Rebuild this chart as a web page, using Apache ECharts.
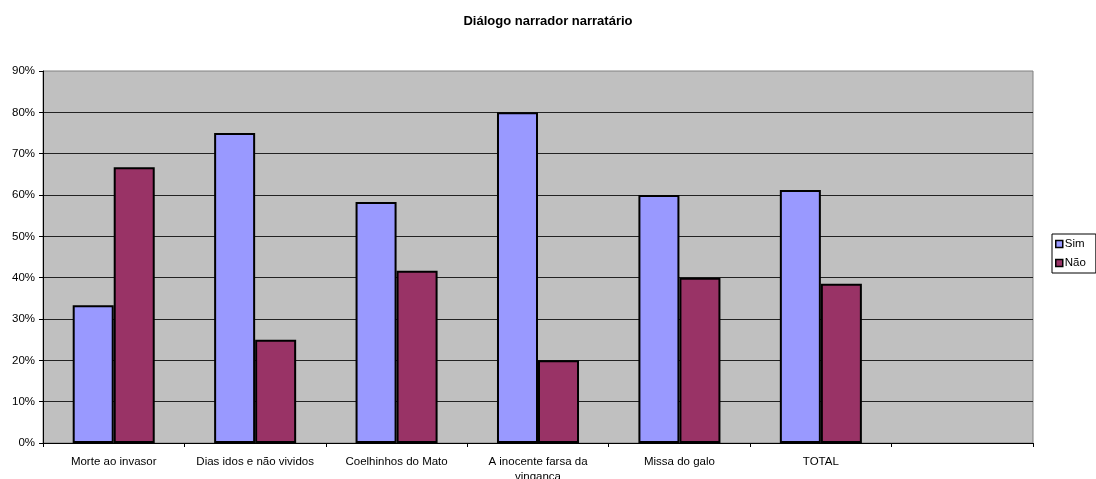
<!DOCTYPE html>
<html>
<head>
<meta charset="utf-8">
<script src="https://cdn.jsdelivr.net/npm/echarts@6/dist/echarts.min.js"></script>
<style>
  html, body { margin: 0; padding: 0; background: #ffffff; }
  #chart { width: 1096px; height: 479px; }
</style>
</head>
<body>
<div id="chart"></div>
<script>
// Stories (the last slot is left empty on the axis)
const categories = [
  'Morte ao invasor',
  'Dias idos e não vividos',
  'Coelhinhos do Mato',
  'A inocente farsa da\nvingança',
  'Missa do galo',
  'TOTAL',
  ''
];
// Share of dialogue between narrator and narratee, in percent
const simValues = [33.3, 75.0, 58.3, 80.0, 60.0, 61.2, null];
const naoValues = [66.7, 25.0, 41.7, 20.0, 40.0, 38.5, null];
const yTicks = { min: 0, max: 90, step: 10 };

const chart = echarts.init(document.getElementById('chart'), null, { renderer: 'canvas' });
const font = 'Arial, "Liberation Sans", sans-serif';

chart.setOption({
  animation: false,
  title: {
    text: 'Diálogo narrador narratário',
    left: 'center',
    top: 10,
    textStyle: { fontFamily: font, fontSize: 13, fontWeight: 'bold', color: '#000' }
  },
  legend: {
    orient: 'vertical',
    left: 1052,
    top: 234,
    itemWidth: 7,
    itemHeight: 7,
    itemGap: 7,
    padding: [4, 10, 4, 3],
    backgroundColor: '#fff',
    borderColor: '#000',
    borderWidth: 1,
    borderRadius: 0,
    icon: 'rect',
    textStyle: { fontFamily: font, fontSize: 11.5, color: '#000', padding: [0, 0, 0, -3] },
    itemStyle: { borderColor: '#000', borderWidth: 1.5 },
    data: ['Sim', 'Não']
  },
  grid: {
    left: 43,
    right: 63,
    top: 71,
    bottom: 36,
    outerBoundsMode: 'none',
    containLabel: false,
    show: true,
    backgroundColor: '#c0c0c0',
    borderColor: '#808080',
    borderWidth: 1
  },
  xAxis: {
    type: 'category',
    data: categories,
    axisLine: { lineStyle: { color: '#000', width: 1 } },
    axisTick: { show: true, alignWithLabel: false, length: 4, lineStyle: { color: '#000' } },
    axisLabel: {
      interval: 0,
      margin: 11,
      fontFamily: font,
      fontSize: 11.5,
      color: '#000',
      lineHeight: 15
    }
  },
  yAxis: {
    type: 'value',
    min: yTicks.min,
    max: yTicks.max,
    interval: yTicks.step,
    axisLine: { show: true, lineStyle: { color: '#000', width: 1 } },
    axisTick: { show: true, length: 4, lineStyle: { color: '#000' } },
    axisLabel: {
      margin: 8,
      fontFamily: font,
      fontSize: 11.5,
      color: '#000',
      formatter: v => v + '%'
    },
    splitLine: { show: true, showMaxLine: false, lineStyle: { color: '#222', width: 1 } }
  },
  series: [
    {
      name: 'Sim',
      type: 'bar',
      data: simValues,
      barGap: '0%',
      barCategoryGap: '42%',
      itemStyle: { color: '#9999ff', borderColor: '#000', borderWidth: 2 }
    },
    {
      name: 'Não',
      type: 'bar',
      data: naoValues,
      itemStyle: { color: '#993366', borderColor: '#000', borderWidth: 2 }
    }
  ]
});
</script>
</body>
</html>
